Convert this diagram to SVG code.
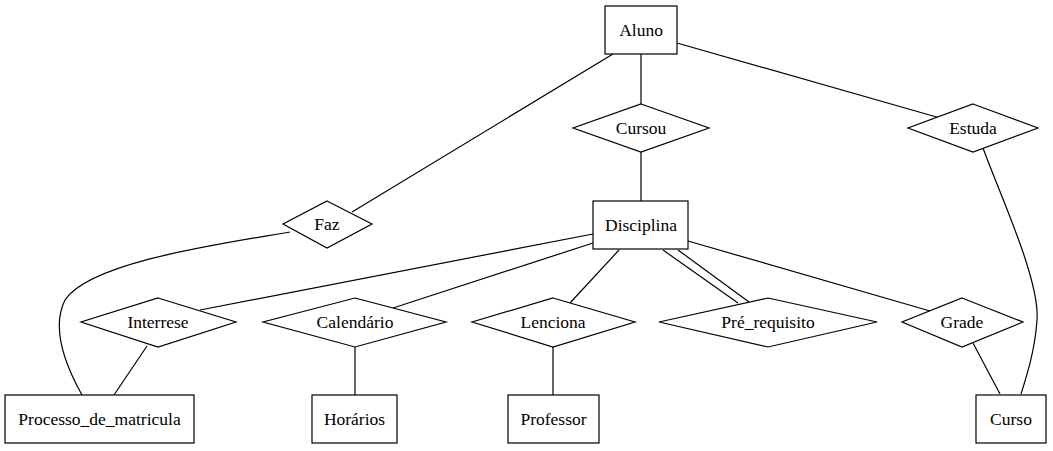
<svg xmlns="http://www.w3.org/2000/svg" width="1053" height="451" viewBox="0 0 1053 451">
<style>
.n{fill:#fff;stroke:#000;stroke-width:1.2}
.e{fill:none;stroke:#000;stroke-width:1.2}
.t{font-family:'Liberation Serif','DejaVu Serif','Times New Roman',serif;font-size:17.5px;text-anchor:middle;fill:#000}
</style>
<rect width="1053" height="451" fill="#fff"/>
<g id="edges">
<path class="e" d="M613,54L352,212"/>
<path class="e" d="M641,54V104"/>
<path class="e" d="M677,43L940,118"/>
<path class="e" d="M641,152V201"/>
<path class="e" d="M983,148C1000,195 1040,280 1037,320C1035,350 1027,375 1021,394"/>
<path class="e" d="M290,232C220,244 90,262 65,300C50,330 68,370 82,395"/>
<path class="e" d="M147,346L114,395"/>
<path class="e" d="M593,234L200,310"/>
<path class="e" d="M593,243L393,308"/>
<path class="e" d="M619,250L570,303"/>
<path class="e" d="M663,250L738,303"/>
<path class="e" d="M678,250L749,302"/>
<path class="e" d="M688,241L930,311"/>
<path class="e" d="M355,347V395"/>
<path class="e" d="M553,347V395"/>
<path class="e" d="M973,343L1000,394"/>
</g>
<g id="Aluno"><rect class="n" x="605" y="6" width="72" height="48"/><text class="t" x="641" y="36">Aluno</text></g>
<g id="Cursou"><polygon class="n" points="641,104 709,128 641,152 573,128"/><text class="t" x="641" y="134">Cursou</text></g>
<g id="Estuda"><polygon class="n" points="973,104 1038,128 973,152 908,128"/><text class="t" x="973" y="134">Estuda</text></g>
<g id="Faz"><polygon class="n" points="327,201 372,224 327,248 283,224"/><text class="t" x="327" y="230">Faz</text></g>
<g id="Disciplina"><rect class="n" x="593" y="201" width="95" height="48"/><text class="t" x="641" y="231">Disciplina</text></g>
<g id="Interrese"><polygon class="n" points="158,298 236,322 158,347 81,322"/><text class="t" x="158" y="328">Interrese</text></g>
<g id="Calendario"><polygon class="n" points="355,298 446,322 355,347 263,322"/><text class="t" x="355" y="328">Calendário</text></g>
<g id="Lenciona"><polygon class="n" points="553,298 635,322 553,347 472,322"/><text class="t" x="553" y="328">Lenciona</text></g>
<g id="Pre_requisito"><polygon class="n" points="768,298 877,322 768,347 659,322"/><text class="t" x="768" y="328">Pré_requisito</text></g>
<g id="Grade"><polygon class="n" points="962,298 1023,322 962,347 902,322"/><text class="t" x="962" y="328">Grade</text></g>
<g id="Processo_de_matricula"><rect class="n" x="5" y="395" width="189" height="48"/><text class="t" x="99.5" y="425">Processo_de_matricula</text></g>
<g id="Horarios"><rect class="n" x="312" y="395" width="85" height="48"/><text class="t" x="354.5" y="425">Horários</text></g>
<g id="Professor"><rect class="n" x="508" y="395" width="91" height="48"/><text class="t" x="553.5" y="425">Professor</text></g>
<g id="Curso"><rect class="n" x="976" y="395" width="70" height="48"/><text class="t" x="1011" y="425">Curso</text></g>
</svg>
